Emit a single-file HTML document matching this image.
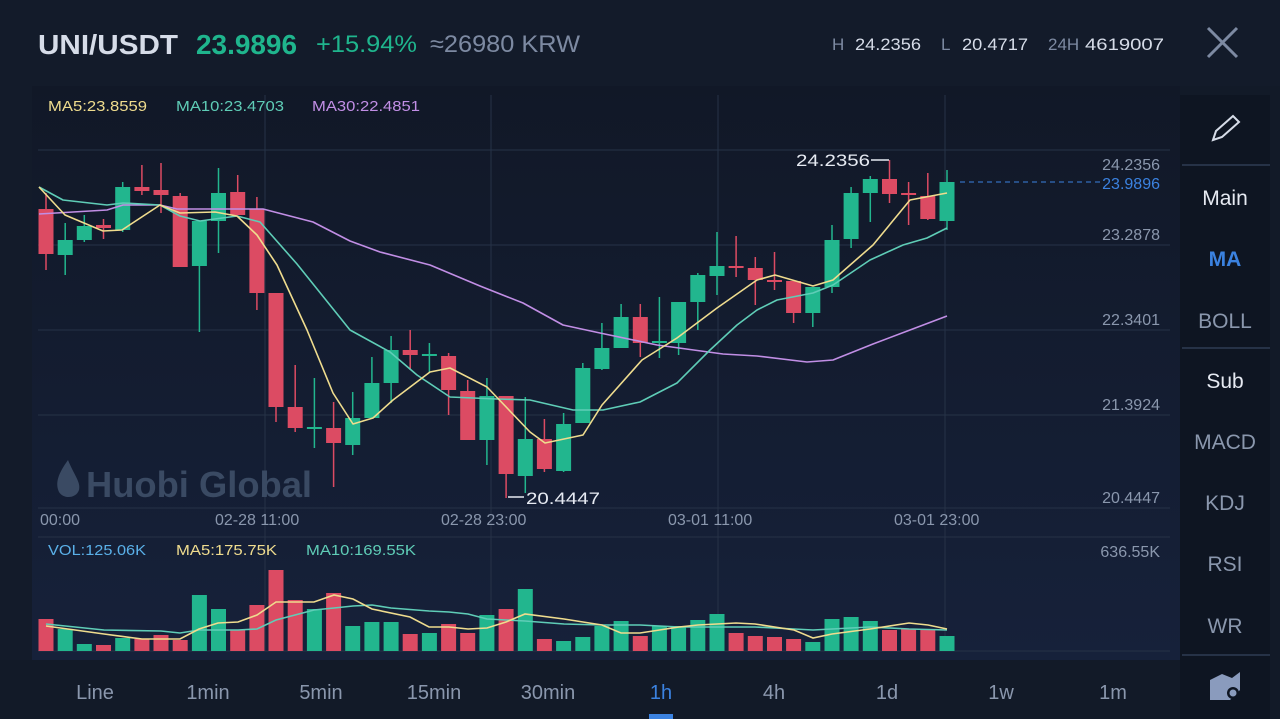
<!DOCTYPE html>
<html><head><meta charset="utf-8"><style>
body{margin:0;width:1280px;height:719px;overflow:hidden;background:#121a28;font-family:"Liberation Sans",sans-serif}
svg{position:absolute;left:0;top:0}
</style></head><body>
<svg width="1280" height="719" viewBox="0 0 1280 719" font-family="Liberation Sans, sans-serif">
<defs><linearGradient id="bg" x1="0" y1="0" x2="0" y2="1"><stop offset="0" stop-color="#111827"/><stop offset="1" stop-color="#16213a"/></linearGradient></defs>
<rect x="0" y="0" width="1280" height="719" fill="#121a28"/>
<rect x="0" y="0" width="1280" height="86" fill="#131b2a"/>
<rect x="0" y="86" width="1180" height="574" fill="url(#bg)"/>
<rect x="0" y="86" width="32" height="574" fill="#131b2a"/>
<rect x="1180" y="95" width="90" height="624" fill="#0e1522"/>
<!-- header text -->
<text x="38" y="54" font-size="28" font-weight="bold" fill="#d6dce8" textLength="140" lengthAdjust="spacingAndGlyphs">UNI/USDT</text>
<text x="196" y="54" font-size="28" font-weight="bold" fill="#1fb58d" textLength="101" lengthAdjust="spacingAndGlyphs">23.9896</text>
<text x="316" y="52" font-size="24" fill="#1fb58d" textLength="101" lengthAdjust="spacingAndGlyphs">+15.94%</text>
<text x="430" y="52" font-size="24" fill="#7d8aa2" textLength="150" lengthAdjust="spacingAndGlyphs">≈26980 KRW</text>
<text x="832" y="50" font-size="17" fill="#7d8aa2">H</text>
<text x="855" y="50" font-size="17" fill="#d6dce8" textLength="66" lengthAdjust="spacingAndGlyphs">24.2356</text>
<text x="941" y="50" font-size="17" fill="#7d8aa2">L</text>
<text x="962" y="50" font-size="17" fill="#d6dce8" textLength="66" lengthAdjust="spacingAndGlyphs">20.4717</text>
<text x="1048" y="50" font-size="17" fill="#7d8aa2">24H</text>
<text x="1085" y="50" font-size="17" fill="#d6dce8" textLength="79" lengthAdjust="spacingAndGlyphs">4619007</text>
<path d="M1208 28 L1237 57 M1237 28 L1208 57" stroke="#7d8aa2" stroke-width="3"/>
<!-- MA legends -->
<text x="48" y="111" font-size="15" fill="#efdc8e" textLength="99" lengthAdjust="spacingAndGlyphs">MA5:23.8559</text>
<text x="176" y="111" font-size="15" fill="#5fcdb7" textLength="108" lengthAdjust="spacingAndGlyphs">MA10:23.4703</text>
<text x="312" y="111" font-size="15" fill="#c18ee5" textLength="108" lengthAdjust="spacingAndGlyphs">MA30:22.4851</text>
<!-- grid -->
<g stroke="#263247" stroke-width="1">
<line x1="38" y1="150" x2="1170" y2="150"/><line x1="38" y1="245" x2="1170" y2="245"/><line x1="38" y1="330" x2="1170" y2="330"/><line x1="38" y1="415" x2="1170" y2="415"/>
<line x1="38" y1="508" x2="1170" y2="508"/><line x1="38" y1="537" x2="1170" y2="537"/><line x1="38" y1="651" x2="1170" y2="651"/>
<line x1="265" y1="95" x2="265" y2="651"/><line x1="491" y1="95" x2="491" y2="651"/><line x1="718" y1="95" x2="718" y2="651"/><line x1="945" y1="95" x2="945" y2="651"/>
</g>
<!-- watermark -->
<text x="86" y="497" font-size="36" font-weight="bold" fill="#3a4a63" textLength="226" lengthAdjust="spacingAndGlyphs">Huobi Global</text>
<path d="M68 460 C58 474 55 483 59 492 C63 499 76 499 79 490 C81 482 74 475 68 460 Z" fill="#3a4a63"/>
<!-- axis labels -->
<g font-size="16" fill="#8a97ad" text-anchor="end">
<text x="1160" y="170">24.2356</text><text x="1160" y="240">23.2878</text><text x="1160" y="325">22.3401</text><text x="1160" y="410">21.3924</text><text x="1160" y="503">20.4447</text><text x="1160" y="557">636.55K</text>
</g>
<line x1="960" y1="182" x2="1100" y2="182" stroke="#3b82e0" stroke-dasharray="5,4"/>
<text x="1160" y="189" font-size="16" fill="#3b82e0" text-anchor="end">23.9896</text>
<g font-size="16" fill="#8a97ad">
<text x="40" y="525">00:00</text><text x="215" y="525">02-28 11:00</text><text x="441" y="525">02-28 23:00</text><text x="668" y="525">03-01 11:00</text><text x="894" y="525">03-01 23:00</text>
</g>
<text x="48" y="555" font-size="15" fill="#5ab0e8" textLength="98" lengthAdjust="spacingAndGlyphs">VOL:125.06K</text>
<text x="176" y="555" font-size="15" fill="#efdc8e" textLength="101" lengthAdjust="spacingAndGlyphs">MA5:175.75K</text>
<text x="306" y="555" font-size="15" fill="#5fcdb7" textLength="110" lengthAdjust="spacingAndGlyphs">MA10:169.55K</text>
<!-- candles -->
<g stroke-width="1.5">
<g fill="#dc4b63" stroke="#dc4b63">
<line x1="46" y1="193" x2="46" y2="270"/><rect x="38.5" y="209" width="15" height="45" stroke="none"/>
<line x1="103.5" y1="219" x2="103.5" y2="239"/><rect x="96" y="225" width="15" height="3" stroke="none"/>
<line x1="141.9" y1="165" x2="141.9" y2="195"/><rect x="134.4" y="187" width="15" height="4" stroke="none"/>
<line x1="161" y1="163" x2="161" y2="213"/><rect x="153.5" y="190" width="15" height="5" stroke="none"/>
<line x1="180.2" y1="193" x2="180.2" y2="267"/><rect x="172.7" y="196" width="15" height="71" stroke="none"/>
<line x1="237.7" y1="175" x2="237.7" y2="215"/><rect x="230.2" y="192" width="15" height="23" stroke="none"/>
<line x1="256.9" y1="197" x2="256.9" y2="310"/><rect x="249.4" y="209" width="15" height="84" stroke="none"/>
<line x1="276" y1="293" x2="276" y2="422"/><rect x="268.5" y="293" width="15" height="114" stroke="none"/>
<line x1="295.2" y1="365" x2="295.2" y2="432"/><rect x="287.7" y="407" width="15" height="21" stroke="none"/>
<line x1="333.6" y1="402" x2="333.6" y2="487"/><rect x="326.1" y="428" width="15" height="15" stroke="none"/>
<line x1="410.2" y1="330" x2="410.2" y2="370"/><rect x="402.7" y="350" width="15" height="5" stroke="none"/>
<line x1="448.6" y1="353" x2="448.6" y2="415"/><rect x="441.1" y="356" width="15" height="34" stroke="none"/>
<line x1="467.7" y1="380" x2="467.7" y2="440"/><rect x="460.2" y="391" width="15" height="49" stroke="none"/>
<line x1="506.1" y1="396" x2="506.1" y2="498"/><rect x="498.6" y="396" width="15" height="78" stroke="none"/>
<line x1="544.4" y1="419" x2="544.4" y2="472"/><rect x="536.9" y="439" width="15" height="30" stroke="none"/>
<line x1="640.3" y1="304" x2="640.3" y2="357"/><rect x="632.8" y="317" width="15" height="26" stroke="none"/>
<line x1="736.1" y1="236" x2="736.1" y2="277"/><rect x="728.6" y="266" width="15" height="2" stroke="none"/>
<line x1="755.3" y1="257" x2="755.3" y2="305"/><rect x="747.8" y="268" width="15" height="12" stroke="none"/>
<line x1="774.5" y1="252" x2="774.5" y2="290"/><rect x="767" y="280" width="15" height="2" stroke="none"/>
<line x1="793.6" y1="281" x2="793.6" y2="323"/><rect x="786.1" y="281" width="15" height="32" stroke="none"/>
<line x1="889.5" y1="160" x2="889.5" y2="203"/><rect x="882" y="179" width="15" height="15" stroke="none"/>
<line x1="908.6" y1="182" x2="908.6" y2="225"/><rect x="901.1" y="193" width="15" height="2" stroke="none"/>
<line x1="927.8" y1="173" x2="927.8" y2="220"/><rect x="920.3" y="196" width="15" height="23" stroke="none"/>
</g>
<g fill="#22b68e" stroke="#22b68e">
<line x1="65.2" y1="223" x2="65.2" y2="275"/><rect x="57.7" y="240" width="15" height="15" stroke="none"/>
<line x1="84.3" y1="215" x2="84.3" y2="242"/><rect x="76.8" y="226" width="15" height="14" stroke="none"/>
<line x1="122.7" y1="182" x2="122.7" y2="232"/><rect x="115.2" y="187" width="15" height="43" stroke="none"/>
<line x1="199.4" y1="221" x2="199.4" y2="332"/><rect x="191.9" y="221" width="15" height="45" stroke="none"/>
<line x1="218.5" y1="168" x2="218.5" y2="253"/><rect x="211" y="193" width="15" height="28" stroke="none"/>
<line x1="314.4" y1="378" x2="314.4" y2="448"/><rect x="306.9" y="427" width="15" height="2" stroke="none"/>
<line x1="352.7" y1="392" x2="352.7" y2="455"/><rect x="345.2" y="418" width="15" height="27" stroke="none"/>
<line x1="371.9" y1="357" x2="371.9" y2="418"/><rect x="364.4" y="383" width="15" height="35" stroke="none"/>
<line x1="391.1" y1="336" x2="391.1" y2="403"/><rect x="383.6" y="350" width="15" height="33" stroke="none"/>
<line x1="429.4" y1="343" x2="429.4" y2="372"/><rect x="421.9" y="354" width="15" height="2" stroke="none"/>
<line x1="486.9" y1="378" x2="486.9" y2="465"/><rect x="479.4" y="396" width="15" height="44" stroke="none"/>
<line x1="525.3" y1="397" x2="525.3" y2="493"/><rect x="517.8" y="439" width="15" height="37" stroke="none"/>
<line x1="563.6" y1="413" x2="563.6" y2="472"/><rect x="556.1" y="424" width="15" height="47" stroke="none"/>
<line x1="582.8" y1="363" x2="582.8" y2="423"/><rect x="575.3" y="368" width="15" height="55" stroke="none"/>
<line x1="601.9" y1="323" x2="601.9" y2="370"/><rect x="594.4" y="348" width="15" height="21" stroke="none"/>
<line x1="621.1" y1="304" x2="621.1" y2="348"/><rect x="613.6" y="317" width="15" height="31" stroke="none"/>
<line x1="659.4" y1="297" x2="659.4" y2="358"/><rect x="651.9" y="341" width="15" height="2" stroke="none"/>
<line x1="678.6" y1="302" x2="678.6" y2="355"/><rect x="671.1" y="302" width="15" height="41" stroke="none"/>
<line x1="697.8" y1="273" x2="697.8" y2="330"/><rect x="690.3" y="275" width="15" height="27" stroke="none"/>
<line x1="717" y1="232" x2="717" y2="295"/><rect x="709.5" y="266" width="15" height="10" stroke="none"/>
<line x1="812.8" y1="287" x2="812.8" y2="327"/><rect x="805.3" y="287" width="15" height="26" stroke="none"/>
<line x1="832" y1="225" x2="832" y2="293"/><rect x="824.5" y="240" width="15" height="47" stroke="none"/>
<line x1="851.1" y1="187" x2="851.1" y2="248"/><rect x="843.6" y="193" width="15" height="46" stroke="none"/>
<line x1="870.3" y1="176" x2="870.3" y2="222"/><rect x="862.8" y="179" width="15" height="14" stroke="none"/>
<line x1="947" y1="170" x2="947" y2="230"/><rect x="939.5" y="182" width="15" height="39" stroke="none"/>
</g>
</g>
<!-- MA lines -->
<g fill="none" stroke-width="1.6" stroke-linejoin="round">
<polyline stroke="#c18ee5" points="39,214 107,210 123,205 160,205 177,209 263,209 313,222 350,241 380,252 430,265 480,286 523,303 563,325 600,333 657,345 723,354 757,356 807,362 833,360 873,344 910,330 947,316"/>
<polyline stroke="#5fcdb7" points="39,187 63,200 107,205 123,203 160,205 180,216 200,221 237,216 260,222 297,264 350,330 390,352 417,375 450,397 497,399 530,400 573,410 603,410 640,402 677,383 710,350 737,325 757,310 777,300 813,293 833,285 870,260 903,245 927,238 947,228"/>
<polyline stroke="#efdc8e" points="39,187 65,215 103,231 122,230 160,205 180,213 215,212 237,216 257,235 277,265 307,330 333,393 353,424 373,418 393,400 430,372 450,368 487,387 530,432 545,443 583,435 602,405 642,360 677,338 717,308 757,280 775,275 813,286 833,280 873,245 910,200 947,193"/>
</g>
<text x="796" y="166" font-size="17" fill="#e6eaf2" textLength="74" lengthAdjust="spacingAndGlyphs">24.2356</text>
<line x1="871" y1="160" x2="889" y2="160" stroke="#e6eaf2" stroke-width="1.5"/>
<line x1="508" y1="497" x2="524" y2="497" stroke="#e6eaf2" stroke-width="1.5"/>
<text x="526" y="504" font-size="17" fill="#e6eaf2" textLength="74" lengthAdjust="spacingAndGlyphs">20.4447</text>
<!-- volume -->
<g fill="#dc4b63">
<rect x="38.5" y="619" width="15" height="32"/><rect x="96" y="645" width="15" height="6"/><rect x="134.4" y="639" width="15" height="12"/><rect x="153.5" y="635" width="15" height="16"/><rect x="172.7" y="640" width="15" height="11"/><rect x="230.2" y="630" width="15" height="21"/><rect x="249.4" y="605" width="15" height="46"/><rect x="268.5" y="570" width="15" height="81"/><rect x="287.7" y="600" width="15" height="51"/><rect x="326.1" y="593" width="15" height="58"/><rect x="402.7" y="634" width="15" height="17"/><rect x="441.1" y="624" width="15" height="27"/><rect x="460.2" y="633" width="15" height="18"/><rect x="498.6" y="609" width="15" height="42"/><rect x="536.9" y="639" width="15" height="12"/><rect x="632.8" y="636" width="15" height="15"/><rect x="728.6" y="633" width="15" height="18"/><rect x="747.8" y="636" width="15" height="15"/><rect x="767" y="637" width="15" height="14"/><rect x="786.1" y="639" width="15" height="12"/><rect x="882" y="630" width="15" height="21"/><rect x="901.1" y="629" width="15" height="22"/><rect x="920.3" y="630" width="15" height="21"/>
</g>
<g fill="#22b68e">
<rect x="57.7" y="629" width="15" height="22"/><rect x="76.8" y="644" width="15" height="7"/><rect x="115.2" y="638" width="15" height="13"/><rect x="191.9" y="595" width="15" height="56"/><rect x="211" y="609" width="15" height="42"/><rect x="306.9" y="609" width="15" height="42"/><rect x="345.2" y="626" width="15" height="25"/><rect x="364.4" y="622" width="15" height="29"/><rect x="383.6" y="622" width="15" height="29"/><rect x="421.9" y="633" width="15" height="18"/><rect x="479.4" y="615" width="15" height="36"/><rect x="517.8" y="589" width="15" height="62"/><rect x="556.1" y="641" width="15" height="10"/><rect x="575.3" y="637" width="15" height="14"/><rect x="594.4" y="626" width="15" height="25"/><rect x="613.6" y="621" width="15" height="30"/><rect x="651.9" y="626" width="15" height="25"/><rect x="671.1" y="626" width="15" height="25"/><rect x="690.3" y="620" width="15" height="31"/><rect x="709.5" y="614" width="15" height="37"/><rect x="805.3" y="642" width="15" height="9"/><rect x="824.5" y="619" width="15" height="32"/><rect x="843.6" y="617" width="15" height="34"/><rect x="862.8" y="621" width="15" height="30"/><rect x="939.5" y="636" width="15" height="15"/>
</g>
<g fill="none" stroke-width="1.6">
<polyline stroke="#5fcdb7" points="46,624 104,630 161,631 180,633 199,630 238,630 257,629 276,620 314,610 334,608 353,606 372,605 391,608 429,611 449,612 468,614 487,619 506,620 525,621 564,624 602,625 640,625 679,627 717,627 755,627 794,629 813,630 832,629 870,627 909,629 947,630"/>
<polyline stroke="#efdc8e" points="46,626 104,634 142,639 180,639 199,629 218,623 238,622 257,615 276,602 295,602 314,602 334,595 353,599 372,609 410,617 429,627 449,627 468,629 487,628 506,622 525,614 564,619 583,622 602,625 621,633 640,633 679,627 698,625 736,623 755,624 794,630 813,638 832,634 870,629 909,623 928,625 947,629"/>
</g>
<!-- sidebar -->
<g stroke="#263247" stroke-width="2"><line x1="1182" y1="165" x2="1270" y2="165"/><line x1="1182" y1="348" x2="1270" y2="348"/><line x1="1182" y1="655" x2="1270" y2="655"/></g>
<path d="M1213 140 L1216 131 L1233 116 L1239 122 L1222 137 Z" fill="none" stroke="#d6dce8" stroke-width="2"/>
<g font-size="21" text-anchor="middle">
<text x="1225" y="205" fill="#e6eaf2">Main</text>
<text x="1225" y="266" fill="#3b82e0" font-weight="bold">MA</text>
<text x="1225" y="328" fill="#8a97ad">BOLL</text>
<text x="1225" y="388" fill="#e6eaf2">Sub</text>
<text x="1225" y="449" fill="#8a97ad">MACD</text>
<text x="1225" y="510" fill="#8a97ad">KDJ</text>
<text x="1225" y="571" fill="#8a97ad">RSI</text>
<text x="1225" y="633" fill="#8a97ad">WR</text>
</g>
<path d="M1210 700 L1210 680 L1222 674 L1232 678 L1240 672 L1240 690 L1230 700 Z" fill="#8a9bbd"/>
<circle cx="1233" cy="693" r="6" fill="#0e1522"/><circle cx="1233" cy="693" r="3.5" fill="#8a9bbd"/>
<!-- bottom tabs -->
<g font-size="20" fill="#8a97ad" text-anchor="middle">
<text x="95" y="699">Line</text><text x="208" y="699">1min</text><text x="321" y="699">5min</text><text x="434" y="699">15min</text><text x="548" y="699">30min</text>
<text x="661" y="699" fill="#3b82e0">1h</text><text x="774" y="699">4h</text><text x="887" y="699">1d</text><text x="1001" y="699">1w</text><text x="1113" y="699">1m</text>
</g>
<rect x="649" y="714" width="24" height="5" fill="#3b82e0"/>
</svg>
</body></html>
